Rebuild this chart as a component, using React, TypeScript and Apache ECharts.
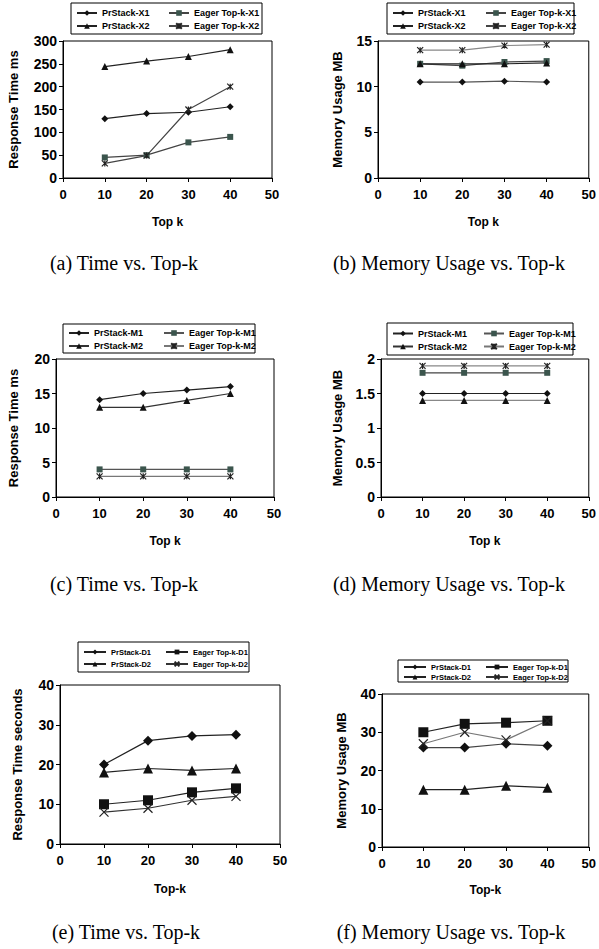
import React, { useEffect, useRef } from "react";
import * as echarts from "echarts";

const topK = [10, 20, 30, 40];

// (a) Time vs. Top-k  (ms)
const aPrStackX1 = [130, 141, 144, 156];
const aEagerX1 = [45, 50, 78, 90];
const aPrStackX2 = [244, 256, 266, 281];
const aEagerX2 = [32, 49, 150, 200];

// (b) Memory Usage vs. Top-k (MB)
const bPrStackX1 = [10.5, 10.5, 10.6, 10.5];
const bEagerX1 = [12.5, 12.3, 12.7, 12.8];
const bPrStackX2 = [12.5, 12.5, 12.5, 12.6];
const bEagerX2 = [14, 14, 14.5, 14.6];

// (c) Time vs. Top-k (ms)
const cPrStackM1 = [14.1, 15, 15.5, 16];
const cEagerM1 = [4, 4, 4, 4];
const cPrStackM2 = [13, 13, 14, 15];
const cEagerM2 = [3, 3, 3, 3];

// (d) Memory Usage vs. Top-k (MB)
const dPrStackM1 = [1.5, 1.5, 1.5, 1.5];
const dEagerM1 = [1.8, 1.8, 1.8, 1.8];
const dPrStackM2 = [1.4, 1.4, 1.4, 1.4];
const dEagerM2 = [1.9, 1.9, 1.9, 1.9];

// (e) Time vs. Top-k (seconds)
const ePrStackD1 = [20, 26, 27.2, 27.5];
const eEagerD1 = [10, 11, 13, 14];
const ePrStackD2 = [18, 19, 18.5, 19];
const eEagerD2 = [8, 9, 11, 12];

// (f) Memory Usage vs. Top-k (MB)
const fPrStackD1 = [26, 26, 27, 26.5];
const fEagerD1 = [30, 32.2, 32.5, 33];
const fPrStackD2 = [15, 15, 16, 15.5];
const fEagerD2 = [27, 30, 28, 33];

const xTicks = { min: 0, max: 50, interval: 10 };

const STAR = "path://M0,0L10,10M10,0L0,10M5,0L5,10";
const CROSS = "path://M0,0L10,10M10,0L0,10";

const panels = [
  {
    grid: { left: 63, top: 41, width: 209, height: 137 },
    yMax: 300, yInterval: 50, yName: "Response Time ms", yNameGap: 43,
    xName: "Top k", xNameGap: 38,
    box: { x: 71, y: 3, w: 191, h: 31 }, col2: 97,
    names: ["PrStack-X1", "Eager Top-k-X1", "PrStack-X2", "Eager Top-k-X2"],
    lines: ["#222", "#444", "#222", "#444"],
    data: [aPrStackX1, aEagerX1, aPrStackX2, aEagerX2],
    caption: "(a) Time vs. Top-k", capX: 124, capY: 263, big: false,
  },
  {
    grid: { left: 378, top: 41, width: 217, height: 137 },
    yMax: 15, yInterval: 5, yName: "Memory Usage MB", yNameGap: 34,
    xName: "Top k", xNameGap: 38,
    box: { x: 387, y: 3, w: 187, h: 31 }, col2: 98,
    names: ["PrStack-X1", "Eager Top-k-X1", "PrStack-X2", "Eager Top-k-X2"],
    lines: ["#555", "#444", "#222", "#888"],
    data: [bPrStackX1, bEagerX1, bPrStackX2, bEagerX2],
    caption: "(b) Memory Usage vs. Top-k", capX: 449, capY: 263, big: false,
  },
  {
    grid: { left: 56, top: 359, width: 218, height: 138 },
    yMax: 20, yInterval: 5, yName: "Response Time ms", yNameGap: 36,
    xName: "Top k", xNameGap: 38,
    box: { x: 63, y: 324, w: 192, h: 29 }, col2: 100,
    names: ["PrStack-M1", "Eager Top-k-M1", "PrStack-M2", "Eager Top-k-M2"],
    lines: ["#222", "#555", "#333", "#777"],
    data: [cPrStackM1, cEagerM1, cPrStackM2, cEagerM2],
    caption: "(c) Time vs. Top-k", capX: 124, capY: 584, big: false,
  },
  {
    grid: { left: 381, top: 359, width: 215, height: 138 },
    yMax: 2, yInterval: 0.5, yName: "Memory Usage MB", yNameGap: 37,
    xName: "Top k", xNameGap: 38,
    box: { x: 387, y: 323, w: 186, h: 32 }, col2: 96,
    names: ["PrStack-M1", "Eager Top-k-M1", "PrStack-M2", "Eager Top-k-M2"],
    lines: ["#222", "#444", "#888", "#888"],
    data: [dPrStackM1, dEagerM1, dPrStackM2, dEagerM2],
    caption: "(d) Memory Usage vs. Top-k", capX: 449, capY: 584, big: false,
  },
  {
    grid: { left: 60, top: 685, width: 220, height: 159 },
    yMax: 40, yInterval: 10, yName: "Response Time seconds", yNameGap: 36,
    xName: "Top-k", xNameGap: 39,
    box: { x: 78, y: 642, w: 171, h: 30 }, col2: 87,
    names: ["PrStack-D1", "Eager Top-k-D1", "PrStack-D2", "Eager Top-k-D2"],
    lines: ["#222", "#222", "#222", "#333"],
    data: [ePrStackD1, eEagerD1, ePrStackD2, eEagerD2],
    caption: "(e) Time vs. Top-k", capX: 126, capY: 932, big: true,
  },
  {
    grid: { left: 382, top: 694, width: 209, height: 153 },
    yMax: 40, yInterval: 10, yName: "Memory Usage MB", yNameGap: 34,
    xName: "Top-k", xNameGap: 37,
    box: { x: 398, y: 660, w: 170, h: 22 }, col2: 87,
    names: ["PrStack-D1", "Eager Top-k-D1", "PrStack-D2", "Eager Top-k-D2"],
    lines: ["#444", "#222", "#222", "#777"],
    data: [fPrStackD1, fEagerD1, fPrStackD2, fEagerD2],
    caption: "(f) Memory Usage vs. Top-k", capX: 451, capY: 932, big: true,
  },
];

const SANS = "Liberation Sans";

function buildOption() {
  const grid: any[] = [];
  const xAxis: any[] = [];
  const yAxis: any[] = [];
  const series: any[] = [];
  const legend: any[] = [];
  const graphic: any[] = [];

  panels.forEach((p, i) => {
    grid.push({
      ...p.grid,
      show: true,
      borderColor: "#000",
      borderWidth: 1,
      backgroundColor: "transparent",
    });
    xAxis.push({
      type: "value",
      gridIndex: i,
      ...xTicks,
      name: p.xName,
      nameLocation: "middle",
      nameGap: p.xNameGap,
      nameTextStyle: { fontFamily: SANS, fontWeight: "bold", fontSize: 12, color: "#000" },
      axisLine: { show: true, lineStyle: { color: "#000", width: 1 } },
      axisTick: { show: true, length: 4, lineStyle: { color: "#000" } },
      axisLabel: { fontFamily: SANS, fontWeight: "bold", fontSize: 13, color: "#000", margin: 10 },
      splitLine: { show: false },
    });
    yAxis.push({
      type: "value",
      gridIndex: i,
      min: 0,
      max: p.yMax,
      interval: p.yInterval,
      name: p.yName,
      nameLocation: "middle",
      nameGap: p.yNameGap,
      nameTextStyle: { fontFamily: SANS, fontWeight: "bold", fontSize: 13, color: "#000" },
      axisLine: { show: true, lineStyle: { color: "#000", width: 1 } },
      axisTick: { show: true, length: 4, lineStyle: { color: "#000" } },
      axisLabel: { fontFamily: SANS, fontWeight: "bold", fontSize: 14, color: "#000", margin: 6 },
      splitLine: { show: false },
    });

    const styles = [
      { symbol: "diamond", size: p.big ? 10 : 7, color: "#111" },
      { symbol: "rect", size: p.big ? 10 : 6, color: p.big ? "#111" : "#3b554d" },
      { symbol: "triangle", size: p.big ? 10 : 7, color: "#111" },
      { symbol: p.big ? CROSS : STAR, size: p.big ? 9 : 6, color: "#222", stroke: true },
    ];
    p.names.forEach((name, k) => {
      const st: any = styles[k];
      series.push({
        type: "line",
        name,
        xAxisIndex: i,
        yAxisIndex: i,
        data: topK.map((x, j) => [x, p.data[k][j]]),
        symbol: st.symbol,
        symbolSize: st.size,
        showAllSymbol: true,
        lineStyle: { color: p.lines[k], width: 1.2 },
        itemStyle: st.stroke
          ? { color: st.color, borderColor: st.color, borderWidth: 1.2 }
          : { color: st.color, borderWidth: 0 },
        emphasis: { disabled: true },
        z: 3,
      });
    });

    const fs = p.big ? 7.5 : 9;
    const rowGap = p.big ? (p.box.h > 25 ? 12 : 10) : 13;
    const itemH = p.big ? 6 : 7;
    const lh = 10;
    const colLeft = [p.box.x + 5, p.box.x + p.col2];
    const cols = [[p.names[0], p.names[2]], [p.names[1], p.names[3]]];
    cols.forEach((names, c) => {
      legend.push({
        orient: "vertical",
        left: colLeft[c],
        top: p.box.y + (p.box.h - (lh * 2 + (rowGap - lh))) / 2 + 1,
        padding: 0,
        itemGap: rowGap - lh,
        itemWidth: p.big ? 22 : 20,
        itemHeight: itemH,
        data: names,
        selectedMode: false,
        textStyle: { fontFamily: SANS, fontWeight: "bold", fontSize: fs, color: "#000", lineHeight: lh },
      });
    });
    graphic.push({
      type: "rect",
      shape: { x: p.box.x, y: p.box.y, width: p.box.w, height: p.box.h },
      style: { fill: "none", stroke: "#000", lineWidth: 1 },
      silent: true,
    });
    graphic.push({
      type: "text",
      x: p.capX,
      y: p.capY,
      style: {
        text: p.caption,
        fontFamily: "Liberation Serif",
        fontSize: 20,
        fill: "#000",
        textAlign: "center",
        textVerticalAlign: "middle",
      },
      silent: true,
    });
  });

  return {
    animation: false,
    backgroundColor: "#fff",
    grid,
    xAxis,
    yAxis,
    legend,
    series,
    graphic,
  };
}

export default function App() {
  const ref = useRef<HTMLDivElement>(null);
  useEffect(() => {
    if (!ref.current) return;
    const chart = echarts.init(ref.current, undefined, { renderer: "svg" });
    chart.setOption(buildOption() as any);
    return () => chart.dispose();
  }, []);
  return (
    <div
      ref={ref}
      style={{ position: "fixed", left: 0, top: 0, width: 599, height: 949, background: "#fff" }}
    />
  );
}
